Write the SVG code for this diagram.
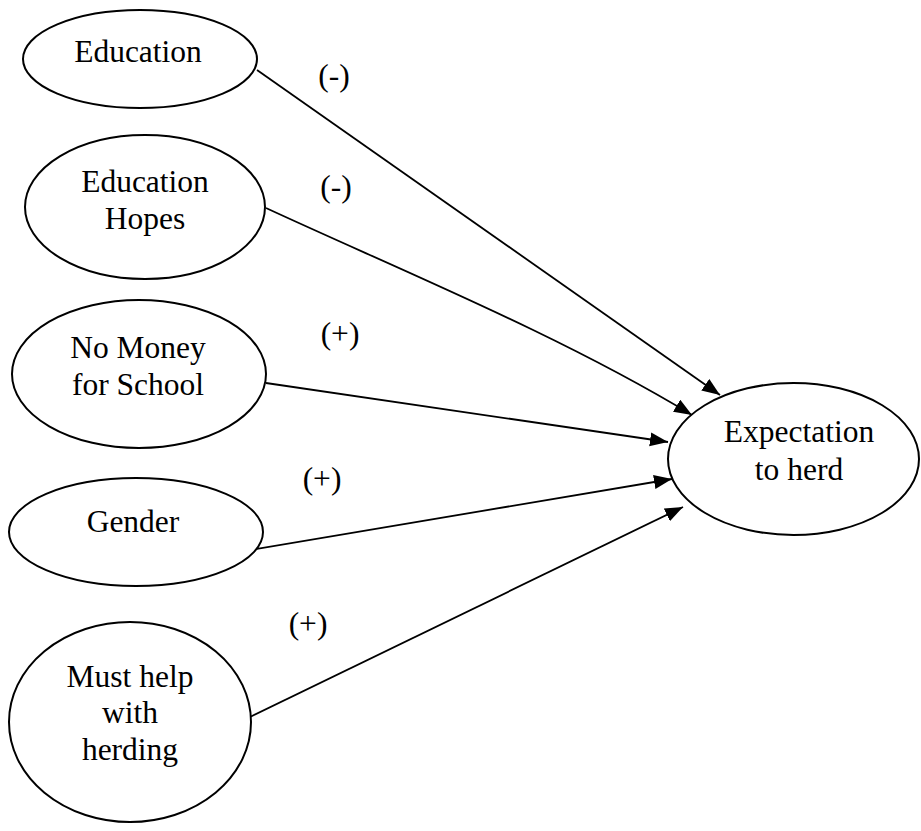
<svg xmlns="http://www.w3.org/2000/svg" width="921" height="831" viewBox="0 0 921 831">
<style>
.n{fill:#fff;stroke:#000;stroke-width:2}
.t{font-family:"Liberation Serif","Times New Roman",serif;font-size:31.5px;fill:#000;text-anchor:middle}
.e{fill:none;stroke:#000;stroke-width:1.8;marker-end:url(#ah)}
</style>
<defs>
<marker id="ah" markerUnits="userSpaceOnUse" markerWidth="20" markerHeight="16" refX="18" refY="7" orient="auto" viewBox="0 0 20 16">
<path d="M0,0 L18,7 L0,14 z" fill="#000"/>
</marker>
</defs>
<rect width="921" height="831" fill="#fff"/>
<g id="connectors">
<path class="e" d="M257,70 L720,395"/>
<path class="e" d="M266,208 C400,270 560,335 692,415"/>
<path class="e" d="M266,383 L668,442"/>
<path class="e" d="M250,550 L672,479"/>
<path class="e" d="M250,717 L683,507"/>
</g>
<g id="labels">
<text class="t" x="334" y="86">(-)</text>
<text class="t" x="336" y="197">(-)</text>
<text class="t" x="340" y="344">(+)</text>
<text class="t" x="322" y="489">(+)</text>
<text class="t" x="308" y="634">(+)</text>
</g>
<g id="education">
<ellipse class="n" cx="140" cy="59" rx="117" ry="49"/>
<text class="t" x="138" y="62">Education</text>
</g>
<g id="education-hopes">
<ellipse class="n" cx="145" cy="207" rx="120" ry="72"/>
<text class="t" x="145" y="192">Education</text>
<text class="t" x="145" y="229">Hopes</text>
</g>
<g id="no-money">
<ellipse class="n" cx="139" cy="374" rx="127" ry="74"/>
<text class="t" x="138" y="358">No Money</text>
<text class="t" x="138" y="395">for School</text>
</g>
<g id="gender">
<ellipse class="n" cx="136" cy="532" rx="127" ry="54"/>
<text class="t" x="133" y="532">Gender</text>
</g>
<g id="must-help">
<ellipse class="n" cx="130" cy="722" rx="121" ry="100"/>
<text class="t" x="130" y="687">Must help</text>
<text class="t" x="130" y="723">with</text>
<text class="t" x="130" y="760">herding</text>
</g>
<g id="expectation">
<ellipse class="n" cx="793.5" cy="459" rx="125.5" ry="76"/>
<text class="t" x="799" y="442">Expectation</text>
<text class="t" x="799" y="480">to herd</text>
</g>
</svg>
